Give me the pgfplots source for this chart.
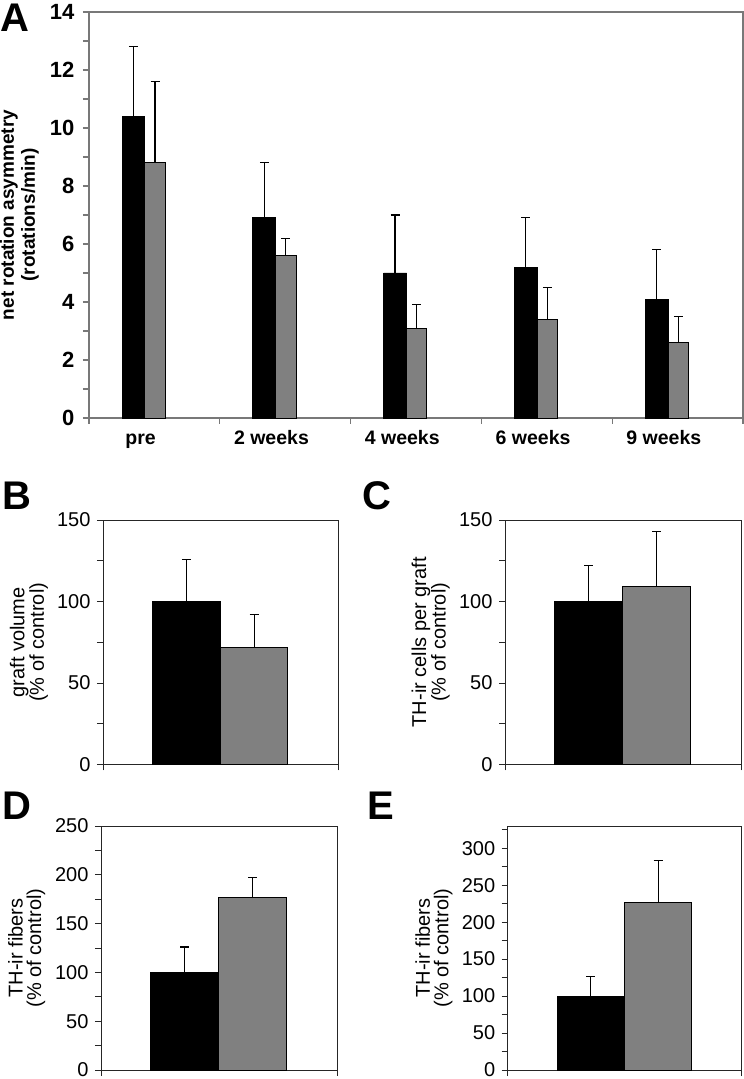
\documentclass[border=0pt]{standalone}
\usepackage{fontspec}
\setmainfont{Liberation Sans}
\usepackage{pgfplots}
\pgfplotsset{compat=1.18}

\definecolor{bargray}{RGB}{128,128,128}
\definecolor{axisgray}{RGB}{120,120,120}

\pgfplotsset{
  panel/.style={
    scale only axis, anchor=south west,
    tick align=outside, xtick pos=bottom, ytick pos=left,
    /pgf/number format/assume math mode=true,
    major tick length=6pt, minor tick length=6pt,
    clip=false,
  },
  small panel/.style={
    panel,
    xmin=0, xmax=1, xtick={0,1}, xticklabels={},
    axis line style={draw=black!85, line width=0.9pt},
    tick style={draw=black!85, line width=0.9pt},
    ticklabel style={font=\fontsize{20}{20}\selectfont},
    yticklabel style={xshift=-3pt},
    ylabel style={font=\fontsize{20}{18.5}\selectfont, align=center,
      at={(axis description cs:-0.315,0.5)}, anchor=center},
  },
  blackbar/.style={ybar, bar shift=0pt, fill=black, draw=black, line width=0.9pt,
    error bars/.cd, y dir=plus, y explicit, error mark=-,
    error bar style={black, line width=1.2pt},
    error mark options={rotate=90, black, line width=1.2pt, mark size=4.5pt}},
  graybar/.style={ybar, bar shift=0pt, fill=bargray, draw=black, line width=0.9pt,
    error bars/.cd, y dir=plus, y explicit, error mark=-,
    error bar style={black, line width=1.2pt},
    error mark options={rotate=90, black, line width=1.2pt, mark size=4.5pt}},
}

\begin{document}
\begin{tikzpicture}
\useasboundingbox (0pt,0pt) rectangle (744pt,1079pt);

% panel letters
\begin{scope}[every node/.style={anchor=base west, inner sep=0pt, font=\fontsize{40}{40}\selectfont\bfseries}]
\node at (0pt,1047pt) {A};
\node at (2pt,569pt) {B};
\node at (362pt,569pt) {C};
\node at (2pt,259pt) {D};
\node at (367pt,259pt) {E};
\end{scope}

% A: rotation asymmetry over time
\begin{axis}[panel, at={(89pt,661pt)}, width=654pt, height=406pt,
  xmin=0, xmax=5, ymin=0, ymax=14,
  xtick={0,1,2,3,4,5}, xticklabels={}, major tick length=6pt,
  extra x ticks={0.395,1.395,2.395,3.395,4.395},
  extra x tick labels={pre,2 weeks,4 weeks,6 weeks,9 weeks},
  extra x tick style={major tick length=0pt,
    xticklabel style={yshift=-9pt, text height=14.2pt, text depth=4pt,
      font=\fontsize{19.5}{19.5}\selectfont\bfseries}},
  ytick={0,2,...,14}, minor ytick={1,3,...,13},
  axis line style={draw=axisgray, line width=1.1pt},
  tick style={draw=axisgray, line width=1.1pt},
  ticklabel style={font=\fontsize{22}{22}\selectfont\bfseries},
  yticklabel style={xshift=-5pt},
  ylabel={net rotation asymmetry\\(rotations/min)},
  ylabel style={font=\fontsize{19}{21}\selectfont\bfseries, align=center,
    at={(axis description cs:-0.1063,0.5)}, anchor=center},
]
\addplot[bar width=0.175, blackbar] coordinates {
  (0.340,10.4) +- (0,2.4)
  (1.340,6.9)  +- (0,1.9)
  (2.340,5.0)  +- (0,2.0)
  (3.340,5.2)  +- (0,1.7)
  (4.340,4.1)  +- (0,1.7)
};
\addplot[bar width=0.155, graybar] coordinates {
  (0.505,8.8) +- (0,2.8)
  (1.505,5.6) +- (0,0.6)
  (2.505,3.1) +- (0,0.8)
  (3.505,3.4) +- (0,1.1)
  (4.505,2.6) +- (0,0.9)
};
\end{axis}

% B: graft volume
\begin{axis}[small panel, at={(103pt,314.5pt)}, width=235pt, height=244.5pt,
  ymin=0, ymax=150, ytick={0,50,100,150}, minor ytick={25,75,125},
  ylabel={graft volume\\(\% of control)}]
\addplot[bar width=0.288, blackbar] coordinates {(0.355,100) +- (0,26)};
\addplot[bar width=0.288, graybar] coordinates {(0.643,72) +- (0,20)};
\end{axis}

% C: TH-ir cells per graft
\begin{axis}[small panel, at={(505pt,314.5pt)}, width=236pt, height=244.5pt,
  ymin=0, ymax=150, ytick={0,50,100,150}, minor ytick={25,75,125},
  ylabel={TH-ir cells per graft\\(\% of control)}]
\addplot[bar width=0.288, blackbar] coordinates {(0.355,100) +- (0,22)};
\addplot[bar width=0.288, graybar] coordinates {(0.643,109.5) +- (0,33.5)};
\end{axis}

% D: TH-ir fibers
\begin{axis}[small panel, at={(101pt,9pt)}, width=236pt, height=244pt,
  ymin=0, ymax=250, ytick={0,50,...,250}, minor ytick={25,75,...,225},
  ylabel={TH-ir fibers\\(\% of control)}]
\addplot[bar width=0.288, blackbar] coordinates {(0.355,100) +- (0,26)};
\addplot[bar width=0.288, graybar] coordinates {(0.643,177) +- (0,20)};
\end{axis}

% E: TH-ir fibers
\begin{axis}[small panel, at={(507.7pt,9pt)}, width=234pt, height=244pt,
  ymin=0, ymax=330, ytick={0,50,...,300}, minor ytick={25,75,...,325},
  ylabel={TH-ir fibers\\(\% of control)}]
\addplot[bar width=0.288, blackbar] coordinates {(0.355,100) +- (0,26)};
\addplot[bar width=0.288, graybar] coordinates {(0.643,227) +- (0,56)};
\end{axis}
\end{tikzpicture}
\end{document}
